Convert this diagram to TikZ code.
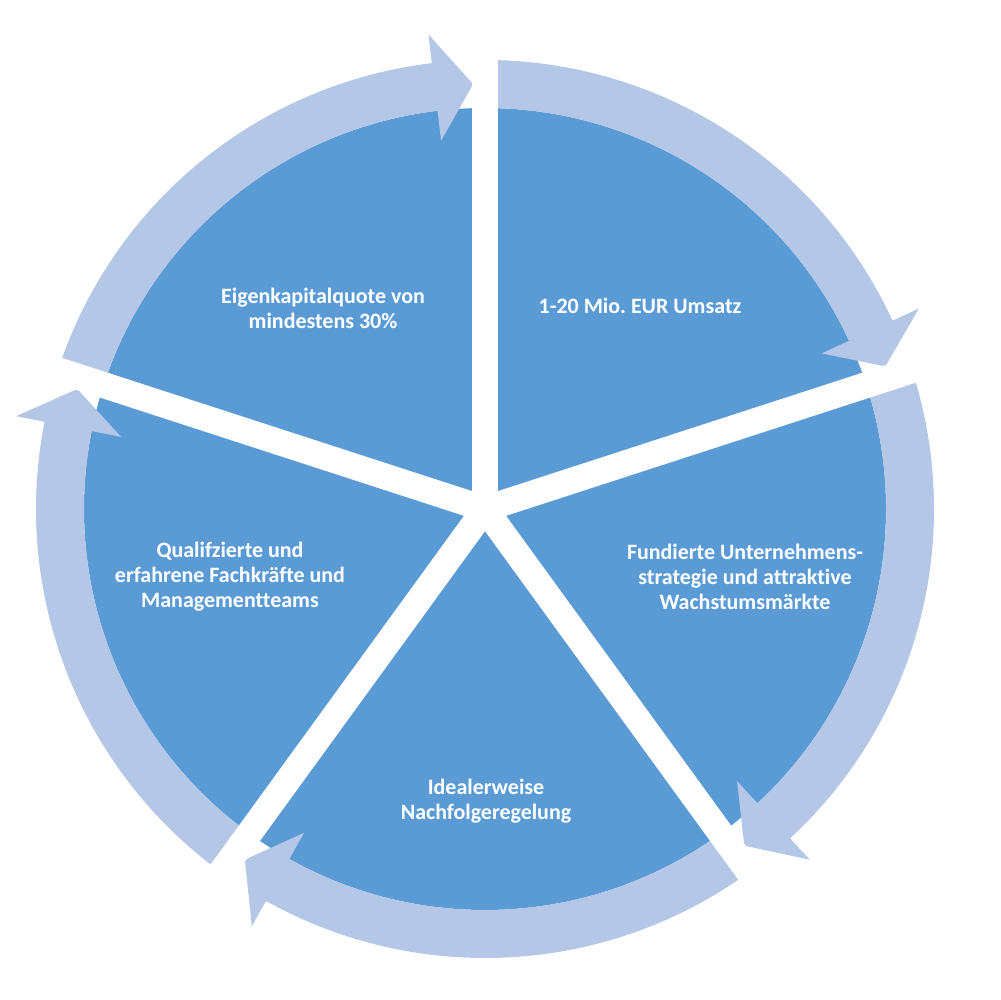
\documentclass[tikz,border=0pt]{standalone}
\usepackage{fontspec}
\setmainfont{Carlito}[Ligatures = NoCommon]
\usepackage{tikz}
\usetikzlibrary{calc}
\definecolor{pieblue}{HTML}{5B9BD5}
\definecolor{ringblue}{HTML}{B4C7E7}
\tikzset{sector/.style = {fill = pieblue}}
\tikzset{ring/.style = {fill = ringblue}}
\tikzset{gap/.style = {draw = white, line width = 0.52cm}}
\tikzset{lbl/.style = {text = white, font = \fontsize{12.5}{14.2}\selectfont\bfseries, align = center}}
\frenchspacing

\begin{document}
\begin{tikzpicture}[x = 0.02cm, y = 0.02cm]
    \useasboundingbox (0, 0) rectangle (1000, 1000);
    \coordinate (c) at (485, 491);

    % pie pieces
    \foreach \a in {18, 90, 162, 234, 306}
      \fill [sector] (c) -- ++(\a:401) arc [start angle = \a, end angle = \a+72, radius = 401] -- cycle;

    % arrows round the pie, clockwise
    \foreach \a in {18, 90, 162, 234, 306} {
      \pgfmathsetmacro{\b}{\a-72+6.8}
      \pgfmathsetmacro{\t}{\a-72+1.6}
      \fill [ring] ($(c)+(\a:449)$) arc [start angle = \a, end angle = \b, radius = 449]
        -- ($(c)+(\b:478)$) -- ($(c)+(\t:425)$) -- ($(c)+(\b:371)$) -- ($(c)+(\b:401)$)
        arc [start angle = \b, end angle = \a, radius = 401] -- cycle;
    }

    % white gaps
    \foreach \a in {18, 90, 162, 234, 306}
      \draw [gap] (c) -- ++(\a:490);

    \node [lbl] (eigen) at (323, 692) {Eigenkapitalquote von\\mindestens 30\%};
    \node [lbl] (umsatz) at (640, 694) {1-20 Mio. EUR Umsatz};
    \node [lbl] (fundiert) at (745, 423) {Fundierte Unternehmens-\\strategie und attraktive\\Wachstumsmärkte};
    \node [lbl] (ideal) at (486, 199) {Idealerweise\\Nachfolgeregelung};
    \node [lbl] (quali) at (230, 423) {Qualifzierte und\\erfahrene Fachkräfte und\\Managementteams};
  \end{tikzpicture}
\end{document}
